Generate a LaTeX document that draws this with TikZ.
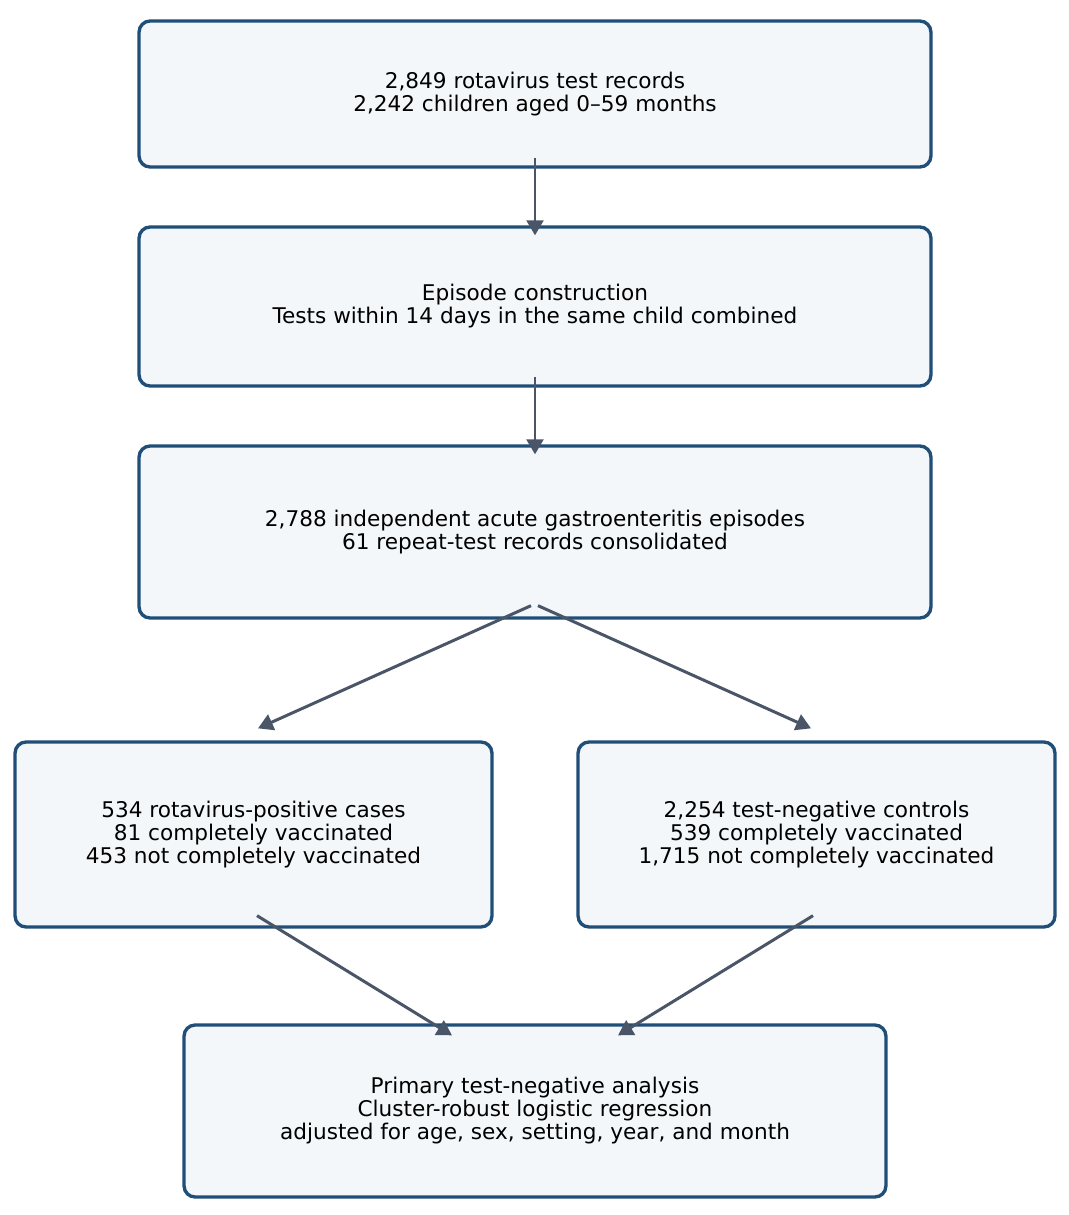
\documentclass[tikz,border=0pt]{standalone}
\usepackage{fontspec}
\setmainfont{DejaVu Sans}
\usetikzlibrary{arrows.meta,calc}
\definecolor{boxfill}{HTML}{F3F7FA}
\definecolor{boxline}{HTML}{1F4E79}
\definecolor{arrowc}{HTML}{4A5568}
\begin{document}
\begin{tikzpicture}[x=0.02cm,y=-0.02cm,
  box/.style={draw=boxline,fill=boxfill,line width=1.9pt,rounded corners=0.22cm,
    align=center,font=\fontsize{12.3}{13.1}\selectfont,inner sep=0pt},
  conn/.style={draw=arrowc,line width=1.7pt,-{Triangle[length=8.5pt,width=9.5pt]}}]
\useasboundingbox[fill=white] (0,0) rectangle (1069,1215);
\node[box,minimum width=15.84cm,minimum height=2.92cm] (n1) at (535,94)
  {2,849 rotavirus test records\\2,242 children aged 0–59 months};
\node[box,minimum width=15.84cm,minimum height=3.18cm] (n2) at (535,306.5)
  {Episode construction\\Tests within 14 days in the same child combined};
\node[box,minimum width=15.84cm,minimum height=3.44cm] (n3) at (535,532)
  {2,788 independent acute gastroenteritis episodes\\61 repeat-test records consolidated};
\node[box,minimum width=9.54cm,minimum height=3.7cm] (n4) at (253.5,834.5)
  {534 rotavirus-positive cases\\81 completely vaccinated\\453 not completely vaccinated};
\node[box,minimum width=9.54cm,minimum height=3.7cm] (n5) at (816.5,834.5)
  {2,254 test-negative controls\\539 completely vaccinated\\1,715 not completely vaccinated};
\node[box,minimum width=14.04cm,minimum height=3.44cm] (n6) at (535,1111)
  {Primary test-negative analysis\\Cluster-robust logistic regression\\adjusted for age, sex, setting, year, and month};
\coordinate (a1s) at ($(n1.south)+(0,-11)$);
\coordinate (a1e) at ($(n2.north)+(0,10)$);
\coordinate (a2s) at ($(n2.south)+(0,-11)$);
\coordinate (a2e) at ($(n3.north)+(0,10)$);
\coordinate (a3s) at ($(n3.south)+(-4,-14)$);
\coordinate (a3e) at ($(n4.north)+(4.5,-12)$);
\coordinate (a4s) at ($(n3.south)+(3,-14)$);
\coordinate (a4e) at ($(n5.north)+(-5.5,-12)$);
\coordinate (a5s) at ($(n4.south)+(3.5,-13)$);
\coordinate (a5e) at ($(n6.north)+(-83,12)$);
\coordinate (a6s) at ($(n5.south)+(-3.5,-13)$);
\coordinate (a6e) at ($(n6.north)+(83,12)$);
\draw[conn] (a1s) -- (a1e);
\draw[conn] (a2s) -- (a2e);
\draw[conn] (a3s) -- (a3e);
\draw[conn] (a4s) -- (a4e);
\draw[conn] (a5s) -- (a5e);
\draw[conn] (a6s) -- (a6e);
\end{tikzpicture}
\end{document}
